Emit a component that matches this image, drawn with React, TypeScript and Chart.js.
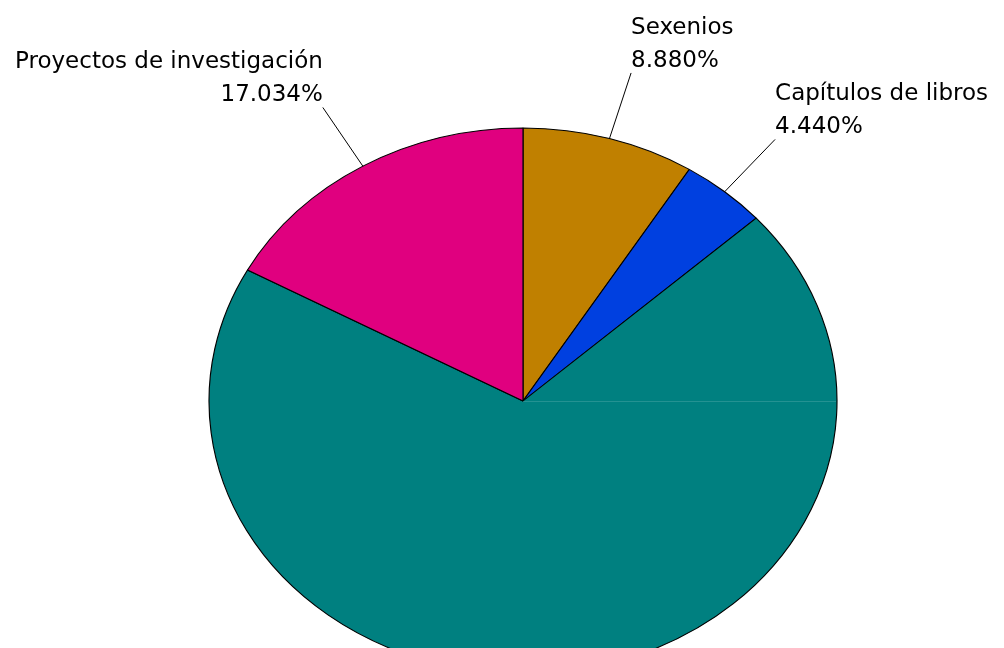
import React, { useEffect, useRef } from "react";
import { Chart, registerables } from "chart.js";

Chart.register(...registerables);

const categories = ["Sexenios", "Capítulos de libros", "Otros", "Proyectos de investigación"];
const values = [8.88, 4.44, 69.646, 17.034];
const valueLabels = ["8.880%", "4.440%", "", "17.034%"];
const showLabel = [true, true, false, true];
const sliceColors = ["#C08000", "#0040E0", "#008080", "#E0007F"];

const STRETCH_X = 314 / 273;
const FONT = "23px 'DejaVu Sans', Verdana, sans-serif";

const ellipsePlugin = {
  id: "ellipse",
  beforeDatasetsDraw(chart: any) {
    const meta = chart.getDatasetMeta(0);
    const arc = meta.data[0];
    if (!arc) return;
    const { x, y } = arc.getProps(["x", "y"], true);
    const ctx = chart.ctx;
    ctx.save();
    ctx.translate(x, y);
    ctx.scale(STRETCH_X, 1);
    ctx.translate(-x, -y);
  },
  afterDatasetsDraw(chart: any) {
    const meta = chart.getDatasetMeta(0);
    const arc = meta.data[0];
    if (!arc) return;
    chart.ctx.restore();
  },
};

const labelPlugin = {
  id: "pieLabels",
  afterDraw(chart: any) {
    const ctx = chart.ctx;
    const meta = chart.getDatasetMeta(0);
    ctx.save();
    // faint seam in the large slice (renderer artifact in reference)
    const big = meta.data[2];
    if (big) {
      const { x, y, outerRadius } = big.getProps(["x", "y", "outerRadius"], true);
      ctx.strokeStyle = "rgba(255,255,255,0.14)";
      ctx.lineWidth = 1;
      ctx.beginPath();
      ctx.moveTo(x, y + 0.5);
      ctx.lineTo(x + outerRadius * STRETCH_X - 1, y + 0.5);
      ctx.stroke();
    }
    ctx.font = FONT;
    ctx.fillStyle = "#000";
    ctx.textBaseline = "alphabetic";
    meta.data.forEach((el: any, i: number) => {
      if (!showLabel[i]) return;
      const { x, y, startAngle, endAngle, outerRadius } = el.getProps(
        ["x", "y", "startAngle", "endAngle", "outerRadius"],
        true
      );
      const mid = (startAngle + endAngle) / 2;
      const c = Math.cos(mid);
      const s = Math.sin(mid);
      const ax = x + STRETCH_X * outerRadius * c;
      const ay = y + outerRadius * s;
      const ox = x + STRETCH_X * outerRadius * 1.25 * c;
      const oy = y + outerRadius * 1.25 * s;
      ctx.strokeStyle = "#000";
      ctx.lineWidth = 1;
      ctx.beginPath();
      ctx.moveTo(ax, ay);
      ctx.lineTo(ox, oy);
      ctx.stroke();
      ctx.textAlign = c >= 0 ? "left" : "right";
      const base = oy - 6;
      ctx.fillText(valueLabels[i], ox, base);
      ctx.fillText(categories[i], ox, base - 33);
    });
    ctx.restore();
  },
};

export default function App() {
  const ref = useRef<HTMLCanvasElement | null>(null);
  useEffect(() => {
    if (!ref.current) return;
    const chart = new Chart(ref.current, {
      type: "pie",
      data: {
        labels: categories,
        datasets: [
          {
            data: values,
            backgroundColor: sliceColors,
            borderColor: "#000",
            borderWidth: 1,
            radius: 273,
            hoverOffset: 0,
          } as any,
        ],
      },
      options: {
        animation: false,
        responsive: true,
        maintainAspectRatio: false,
        layout: { padding: { left: 42, right: 0, top: 154, bottom: 0 } },
        plugins: {
          legend: { display: false },
          tooltip: { enabled: false },
        },
      },
      plugins: [ellipsePlugin, labelPlugin],
    });
    return () => chart.destroy();
  }, []);
  return (
    <div
      style={{
        position: "absolute",
        left: 0,
        top: 0,
        width: "1004px",
        height: "648px",
        background: "#fff",
      }}
    >
      <canvas ref={ref} />
    </div>
  );
}
